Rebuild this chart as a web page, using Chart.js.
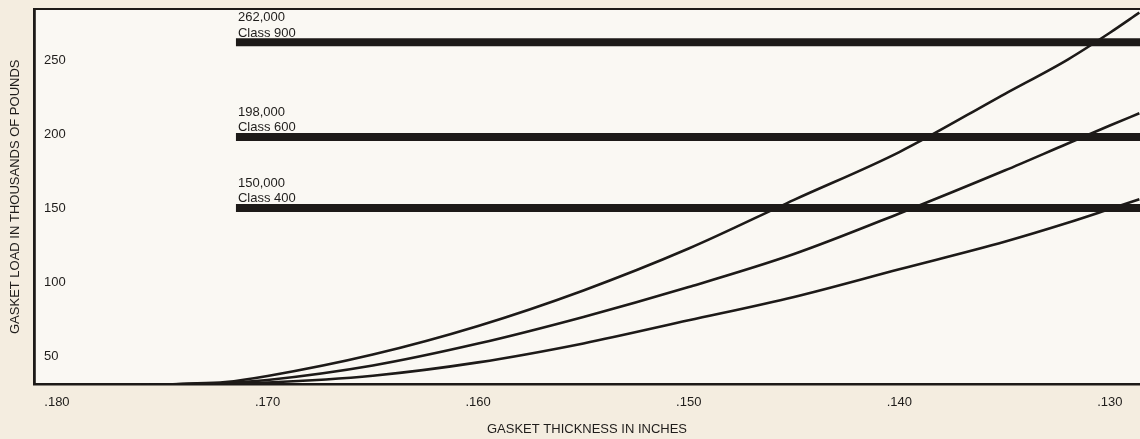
<!DOCTYPE html>
<html>
<head>
<meta charset="utf-8">
<title>Gasket load vs thickness</title>
<script src="https://cdn.jsdelivr.net/npm/chart.js@4"></script>
<style>
  html, body { margin: 0; padding: 0; background: #f4ede0; }
  canvas { display: block; }
</style>
</head>
<body>
<canvas id="gasket-chart" width="1140" height="439"></canvas>
<script>
// Thickness (inches) at which the load curves are sampled
const thickness = [0.176, 0.174, 0.172, 0.170, 0.165, 0.160, 0.155, 0.150, 0.145, 0.140, 0.135, 0.132, 0.130, 0.1286];

// Gasket load, thousands of pounds
const upperCurve  = [30.0, 31.2, 32.4, 36.5, 51.0, 70.3, 94.3, 122.6, 155.5, 187.8, 227.0, 250.3, 268.4, 282.0];
const middleCurve = [30.0, 31.0, 31.8, 33.8, 43.6, 58.4, 76.4, 96.6, 118.9, 146.3, 175.3, 193.6, 205.7, 214.0];
const lowerCurve  = [30.0, 30.9, 31.4, 32.1, 36.7, 45.7, 58.5, 74.1, 89.9, 108.6, 127.2, 140.0, 149.3, 155.9];

// Flange class loads, thousands of pounds
const classNames = ['Class 900', 'Class 600', 'Class 400'];
const classLoads = [262, 198, 150];
const classLineFrom = 0.1715; // thickness where the class lines begin

// Axis ticks
const thicknessTicks = [0.180, 0.170, 0.160, 0.150, 0.140, 0.130];
const loadTicks = [50, 100, 150, 200, 250];

const INK = '#1d1a18';
const TEXT = '#1f1d1b';
const FONT = '"Liberation Sans", Arial, Helvetica, sans-serif';

// plot area fill + top frame line
const frame = {
  id: 'frame',
  beforeDraw(chart) {
    const { ctx, chartArea: a } = chart;
    ctx.save();
    ctx.fillStyle = '#faf8f3';
    ctx.fillRect(a.left, a.top, a.right - a.left, a.bottom - a.top);
    ctx.restore();
  },
  afterDraw(chart) {
    const { ctx, chartArea: a } = chart;
    ctx.save();
    ctx.strokeStyle = INK;
    ctx.lineWidth = 2;
    ctx.beginPath();
    ctx.moveTo(a.left, a.top);
    ctx.lineTo(a.right, a.top);
    ctx.stroke();
    ctx.restore();
  }
};

// value + class name written above each class line
const classLabels = {
  id: 'classLabels',
  afterDatasetsDraw(chart) {
    const ctx = chart.ctx;
    ctx.save();
    ctx.font = '13px ' + FONT;
    ctx.fillStyle = TEXT;
    ctx.textAlign = 'left';
    ctx.textBaseline = 'alphabetic';
    classLoads.forEach((load, i) => {
      const pt = chart.getDatasetMeta(i).data[0];
      ctx.fillText((load * 1000).toLocaleString('en-US'), pt.x + 2, pt.y - 21);
      ctx.fillText(classNames[i], pt.x + 2, pt.y - 5.5);
    });
    ctx.restore();
  }
};

const classSets = classLoads.map((load, i) => ({
  label: classNames[i],
  data: [{ x: classLineFrom, y: load }, { x: 0.12, y: load }],
  borderColor: INK,
  borderWidth: 8,
  borderCapStyle: 'butt',
  pointRadius: 0
}));

const curveSets = [upperCurve, middleCurve, lowerCurve].map(values => ({
  data: thickness.map((t, i) => ({ x: t, y: values[i] })),
  borderColor: INK,
  borderWidth: 2.6,
  pointRadius: 0,
  cubicInterpolationMode: 'monotone'
}));

new Chart(document.getElementById('gasket-chart'), {
  type: 'line',
  data: { datasets: [...classSets, ...curveSets] },
  options: {
    responsive: false,
    animation: false,
    layout: { padding: { top: 9, right: 0, bottom: 0, left: 0 } },
    plugins: { legend: { display: false }, tooltip: { enabled: false } },
    scales: {
      x: {
        type: 'linear',
        reverse: true,
        min: 0.12857,
        max: 0.18109,
        afterBuildTicks: scale => { scale.ticks = thicknessTicks.map(v => ({ value: v })); },
        afterFit: scale => {
          scale.height = 54.5;
          scale.paddingLeft = 0;
          scale.paddingRight = 0;
        },
        grid: { display: false, drawTicks: false },
        border: { display: true, color: INK, width: 2.6 },
        ticks: {
          autoSkip: false,
          maxRotation: 0,
          padding: 10,
          color: TEXT,
          font: { family: FONT, size: 13 },
          callback: v => v.toFixed(3).replace(/^0/, '')
        },
        title: {
          display: true,
          text: 'GASKET THICKNESS IN INCHES',
          color: TEXT,
          font: { family: FONT, size: 13 },
          padding: { top: 0, bottom: 2 }
        }
      },
      y: {
        type: 'linear',
        min: 30.74,
        max: 284.46,
        afterBuildTicks: scale => { scale.ticks = loadTicks.map(v => ({ value: v })); },
        afterFit: scale => {
          scale.width = 34;
          scale.paddingTop = 0;
          scale.paddingBottom = 0;
        },
        grid: { display: false, drawTicks: false },
        border: { display: true, color: INK, width: 2.8 },
        ticks: {
          mirror: true,
          padding: 10,
          color: TEXT,
          font: { family: FONT, size: 13 }
        },
        title: {
          display: true,
          text: 'GASKET LOAD IN THOUSANDS OF POUNDS',
          color: TEXT,
          font: { family: FONT, size: 13 },
          padding: { top: 8, bottom: 0 }
        }
      }
    }
  },
  plugins: [frame, classLabels]
});
</script>
</body>
</html>
